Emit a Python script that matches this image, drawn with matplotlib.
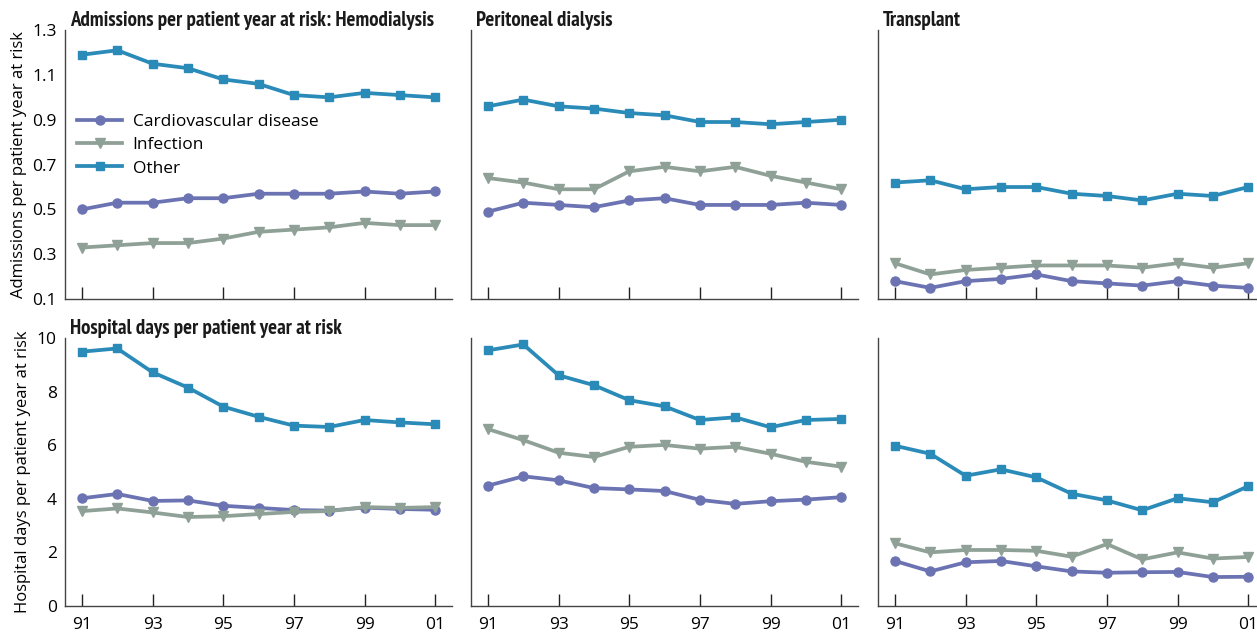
import matplotlib.pyplot as plt
from matplotlib import font_manager

years = list(range(91, 102))
tick_years = [91, 93, 95, 97, 99, 101]
tick_labels = ['91', '93', '95', '97', '99', '01']

series_names = ['Cardiovascular disease', 'Infection', 'Other']

# Admissions per patient year at risk
adm_hd_cvd = [0.50, 0.53, 0.53, 0.55, 0.55, 0.57, 0.57, 0.57, 0.58, 0.57, 0.58]
adm_hd_inf = [0.33, 0.34, 0.35, 0.35, 0.37, 0.40, 0.41, 0.42, 0.44, 0.43, 0.43]
adm_hd_oth = [1.19, 1.21, 1.15, 1.13, 1.08, 1.06, 1.01, 1.00, 1.02, 1.01, 1.00]

adm_pd_cvd = [0.49, 0.53, 0.52, 0.51, 0.54, 0.55, 0.52, 0.52, 0.52, 0.53, 0.52]
adm_pd_inf = [0.64, 0.62, 0.59, 0.59, 0.67, 0.69, 0.67, 0.69, 0.65, 0.62, 0.59]
adm_pd_oth = [0.96, 0.99, 0.96, 0.95, 0.93, 0.92, 0.89, 0.89, 0.88, 0.89, 0.90]

adm_tx_cvd = [0.18, 0.15, 0.18, 0.19, 0.21, 0.18, 0.17, 0.16, 0.18, 0.16, 0.15]
adm_tx_inf = [0.26, 0.21, 0.23, 0.24, 0.25, 0.25, 0.25, 0.24, 0.26, 0.24, 0.26]
adm_tx_oth = [0.62, 0.63, 0.59, 0.60, 0.60, 0.57, 0.56, 0.54, 0.57, 0.56, 0.60]

# Hospital days per patient year at risk
days_hd_cvd = [4.02, 4.18, 3.92, 3.94, 3.74, 3.66, 3.58, 3.56, 3.67, 3.62, 3.59]
days_hd_inf = [3.54, 3.64, 3.49, 3.32, 3.35, 3.43, 3.51, 3.54, 3.69, 3.66, 3.69]
days_hd_oth = [9.49, 9.61, 8.72, 8.15, 7.44, 7.06, 6.73, 6.68, 6.94, 6.85, 6.78]

days_pd_cvd = [4.49, 4.84, 4.69, 4.40, 4.35, 4.29, 3.96, 3.81, 3.91, 3.97, 4.06]
days_pd_inf = [6.60, 6.19, 5.72, 5.56, 5.94, 6.01, 5.87, 5.94, 5.68, 5.38, 5.20]
days_pd_oth = [9.54, 9.76, 8.61, 8.24, 7.68, 7.45, 6.94, 7.04, 6.67, 6.94, 6.98]

days_tx_cvd = [1.68, 1.29, 1.63, 1.68, 1.48, 1.29, 1.24, 1.26, 1.27, 1.08, 1.09]
days_tx_inf = [2.34, 2.00, 2.09, 2.09, 2.06, 1.84, 2.31, 1.74, 2.00, 1.77, 1.83]
days_tx_oth = [5.98, 5.68, 4.86, 5.10, 4.80, 4.19, 3.94, 3.57, 4.02, 3.87, 4.47]

colors = ['#6b73b3', '#8fa197', '#2a8ab8']
markers = ['o', 'v', 's']
msizes = [6.5, 6.5, 6]


def condensed_bold():
    # look for any installed narrow/condensed bold face for the panel titles
    narrow = ('condensed', 'narrow', 'semi-condensed', 'extra-condensed')
    found = []
    for f in font_manager.fontManager.ttflist:
        w = f.weight if isinstance(f.weight, int) else 400
        if f.weight == 'bold':
            w = 700
        if w < 600 or f.style != 'normal':
            continue
        lname = f.name.lower() + ' ' + f.fname.lower()
        if f.stretch in narrow or 'narrow' in lname or 'condensed' in lname:
            rank = 0 if 'narrow' in lname else 1
            if 'extra' in lname or 'semi' in lname:
                rank += 2
            found.append((rank, f.fname))
    if found:
        found.sort()
        return font_manager.FontProperties(fname=found[0][1], size=15), True
    return font_manager.FontProperties(family='Roboto', weight='bold', size=11), False


title_prop, is_narrow = condensed_bold()
plt.rcParams['font.family'] = ['Open Sans', 'DejaVu Sans']

fig = plt.figure(figsize=(12.57, 6.35), dpi=100)

lefts = [0.0517, 0.3747, 0.6985]
width = 0.308
rows = [
    dict(bottom=0.529, height=0.4236, ylim=(0.1, 1.3),
         yticks=[0.1, 0.3, 0.5, 0.7, 0.9, 1.1, 1.3],
         ylabel='Admissions per patient year at risk',
         titles=['Admissions per patient year at risk: Hemodialysis',
                 'Peritoneal dialysis', 'Transplant'],
         data=[[adm_hd_cvd, adm_hd_inf, adm_hd_oth],
               [adm_pd_cvd, adm_pd_inf, adm_pd_oth],
               [adm_tx_cvd, adm_tx_inf, adm_tx_oth]]),
    dict(bottom=0.0457, height=0.422, ylim=(0, 10),
         yticks=[0, 2, 4, 6, 8, 10],
         ylabel='Hospital days per patient year at risk',
         titles=['Hospital days per patient year at risk', '', ''],
         data=[[days_hd_cvd, days_hd_inf, days_hd_oth],
               [days_pd_cvd, days_pd_inf, days_pd_oth],
               [days_tx_cvd, days_tx_inf, days_tx_oth]]),
]

for r, row in enumerate(rows):
    for c in range(3):
        ax = fig.add_axes([lefts[c], row['bottom'], width, row['height']])
        for vals, name, col, mk, ms in zip(row['data'][c], series_names,
                                           colors, markers, msizes):
            ax.plot(years, vals, color=col, lw=2.7, marker=mk, ms=ms,
                    mec=col, mfc=col, label=name)
        ax.set_xlim(90.52, 101.48)
        ax.set_ylim(*row['ylim'])
        ax.set_xticks(tick_years)
        ax.set_yticks(row['yticks'])
        for s in ['top', 'right']:
            ax.spines[s].set_visible(False)
        for s in ['left', 'bottom']:
            ax.spines[s].set_color('#444444')
            ax.spines[s].set_linewidth(1.0)
        ax.tick_params(axis='x', direction='in', length=9, width=1,
                       color='#222222', labelsize=12.5, pad=8)
        ax.tick_params(axis='y', length=0, labelsize=12.5, pad=6)
        if r == 0:
            ax.set_xticklabels([])
        else:
            ax.set_xticklabels(tick_labels)
        if c == 0:
            ax.set_yticklabels([f'{v:g}' for v in row['yticks']])
            ax.set_ylabel(row['ylabel'], fontsize=12, labelpad=4)
        else:
            ax.set_yticklabels([])
        if row['titles'][c]:
            ax.text(0.013, 1.0, row['titles'][c], transform=ax.transAxes,
                    fontproperties=title_prop, color='#1a1a1a',
                    va='bottom', ha='left')
        if r == 0 and c == 0:
            ax.legend(loc='upper left', bbox_to_anchor=(0.0, 0.735),
                      frameon=False, fontsize=12.5, handlelength=2.6,
                      handletextpad=0.6, labelspacing=0.42,
                      borderaxespad=0.3)

fig.savefig('out.png', dpi=100)
plt.close(fig)
